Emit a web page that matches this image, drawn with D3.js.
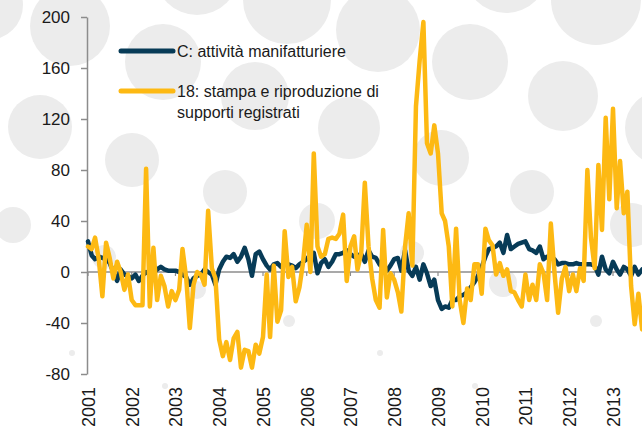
<!DOCTYPE html>
<html>
<head>
<meta charset="utf-8">
<script src="https://cdn.jsdelivr.net/npm/d3@7"></script>
<style>
  body { margin: 0; background: #fff; overflow: hidden; }
  svg { display: block; font-family: "Liberation Sans", Arial, Helvetica, sans-serif; }
</style>
</head>
<body>
<div id="chart"></div>
<script>
// --- data ---
const years = [2001, 2002, 2003, 2004, 2005, 2006, 2007, 2008, 2009, 2010, 2011, 2012, 2013];
const yTicks = [-80, -40, 0, 40, 80, 120, 160, 200];
const legendLabels = [
  ["C: attività manifatturiere"],
  ["18: stampa e riproduzione di", "supporti registrati"]
];

// C: attività manifatturiere, monthly from Jan 2001
const manifattura = [
  24, 13, 10, 12, 11, 10, 7, 0, -7, 2, -2, -3,
  -5, -2, -7, -3, 0, -2, -1, 2, 4, 2, 1, 1,
  1, 0, -2, -4, -10, -5, -3, -2, 2, 0, -2, -10,
  2, 8, 12, 11, 14, 8, 12, 19, 10, -3, 14, 16,
  10, 5, 2, 6, 7, 4, 6, 6, 5, 3, 6, 8,
  10, 14, 15, -1, 7, 10, 4, 8, 14, 14, 15, 17,
  14, 12, 13, 14, 8, 17, 12, 11, 6, 3, 1, 5,
  10, 11, 1, 17, 1, -3, 4, -6, 6, -1, -11, -6,
  -22, -29, -27, -28, -22, -22, -19, -18, -16, -12, -8, -3,
  4, 12, 18, 19, 20, 23, 15, 29, 18, 20, 22, 23,
  24, 18, 17, 15, 20, 10, 12, 12, 10, 6, 7, 7,
  6, 6, 7, 6, 6, 6, 6, 5, -2, 12, 2, -1,
  8, 2, -2, 4, 2, -3, 4, -2, 2
];

// 18: stampa e riproduzione di supporti registrati
const stampa = [
  20, 18, 27, 10, -19, 23, 11, -5, 8, 0, -14, -2,
  -22, -26, -26, -26, 81, -27, 19, -22, -3, -11, -27, -15,
  -22, -14, 18, -5, -44, -10, 0, -2, -10, 48, 3, -5,
  -53, -66, -55, -69, -52, -47, -75, -61, -62, -75, -57, -64,
  -51, -2, -51, 5, -39, -30, 32, -4, 4, -23, -12, 7,
  37, 0, 93, 20, 12, 14, 26, 27, 26, 30, 45, -7,
  20, 28, 2, 15, 70, 20, -5, -22, -28, 33, -20, -1,
  -6, -16, -31, 20, 46, 5, 130, 166, 196, 101, 93, 115,
  93, 46, 40, 20, -27, 34, -22, -40, -13, -22, 6, 6,
  -17, 34, 25, 21, -2, 7, -3, 2, -15, -16, -22, -27,
  -2, -22, -10, -22, 6, -1, -22, 38, -1, -32, -5, 4,
  -15, -2, -15, 3, -7, 80, 27, 3, 84, 33, 121, 57,
  128, 50, 87, 46, 63, -11, -41, -17, -45
];

// decorative grey bubbles in the background [cx, cy, r]
const bubbles = [
  [-12, 5, 35], [70, 26, 40], [163, 62, 38], [40, 127, 32], [132, 160, 27],
  [197, -27, 42], [255, 96, 34], [287, 0, 44], [378, 30, 42], [349, 128, 31],
  [225, 192, 22], [470, 62, 38], [506, -29, 42], [441, 158, 28], [563, 96, 35],
  [596, 0, 45], [662, 128, 37], [532, 192, 22], [13, 225, 18], [317, 221, 18],
  [412, 253, 12], [503, 283, 14], [632, 225, 22], [197, 290, 9], [104, 257, 12],
  [596, 321, 6], [289, 321, 6], [380, 353, 3], [72, 353, 3], [165, 386, 3], [475, 386, 3]
];

const colors = ["#073b57", "#fdb913"];

draw();

function draw() {
  const width = 642;
  const height = 434;

  const svg = d3.select("#chart").append("svg")
    .attr("width", width)
    .attr("height", height);

  // background
  svg.append("g").selectAll("circle")
    .data(bubbles)
    .enter()
    .append("circle")
    .attr("cx", d => d[0])
    .attr("cy", d => d[1])
    .attr("r", d => d[2])
    .attr("fill", "#ececec");

  const x = d3.scaleTime()
    .domain([new Date(2001, 0, 1), new Date(2013, 0, 1)])
    .range([88, 613]);

  const y = d3.scaleLinear()
    .domain([-80, 200])
    .range([374, 17]);

  const months = d3.range(manifattura.length).map(i => new Date(2001, i, 1));

  // y axis (plain hyphen for negatives, as in the original)
  const yAxis = svg.append("g")
    .attr("transform", "translate(87,0)")
    .call(d3.axisLeft(y)
      .tickValues(yTicks)
      .tickFormat(d => String(d))
      .tickSize(6)
      .tickSizeOuter(0)
      .tickPadding(11));
  yAxis.select(".domain").attr("stroke", "#8c8c8c").attr("stroke-width", 1.5);
  yAxis.selectAll(".tick line").attr("stroke", "#8c8c8c").attr("stroke-width", 1.5);
  yAxis.selectAll(".tick text")
    .attr("fill", "#1a1a1a")
    .style("font-size", "17px");

  // zero line with small year ticks
  svg.append("line")
    .attr("x1", 87).attr("x2", width)
    .attr("y1", y(0)).attr("y2", y(0))
    .attr("stroke", "#8c8c8c")
    .attr("stroke-width", 1.5);

  svg.append("g").selectAll("line")
    .data(years)
    .enter()
    .append("line")
    .attr("x1", d => x(new Date(d, 0, 1)))
    .attr("x2", d => x(new Date(d, 0, 1)))
    .attr("y1", y(0))
    .attr("y2", y(0) + 4)
    .attr("stroke", "#8c8c8c")
    .attr("stroke-width", 1.2);

  // year labels, rotated
  svg.append("g").selectAll("text")
    .data(years)
    .enter()
    .append("text")
    .attr("transform", d => `translate(${x(new Date(d, 0, 1)) + 7},387) rotate(-90)`)
    .attr("text-anchor", "end")
    .attr("fill", "#1a1a1a")
    .style("font-size", "18px")
    .text(d => d);

  // series
  const line = d3.line()
    .x((d, i) => x(months[i]))
    .y(d => y(d));

  [manifattura, stampa].forEach((values, k) => {
    svg.append("path")
      .datum(values)
      .attr("d", line)
      .attr("fill", "none")
      .attr("stroke", colors[k])
      .attr("stroke-width", 4.5)
      .attr("stroke-linejoin", "round")
      .attr("stroke-linecap", "round");
  });

  // legend
  const legendY = [51, 91];
  const legend = svg.append("g");
  legendLabels.forEach((lines, k) => {
    legend.append("line")
      .attr("x1", 121).attr("x2", 173)
      .attr("y1", legendY[k]).attr("y2", legendY[k])
      .attr("stroke", colors[k])
      .attr("stroke-width", 5)
      .attr("stroke-linecap", "round");
    const t = legend.append("text")
      .attr("x", 177)
      .attr("y", legendY[k] + 5.5)
      .attr("fill", "#1a1a1a")
      .style("font-size", "16px");
    lines.forEach((s, j) => {
      t.append("tspan")
        .attr("x", 177)
        .attr("dy", j === 0 ? 0 : 21)
        .text(s);
    });
  });
}
</script>
</body>
</html>
